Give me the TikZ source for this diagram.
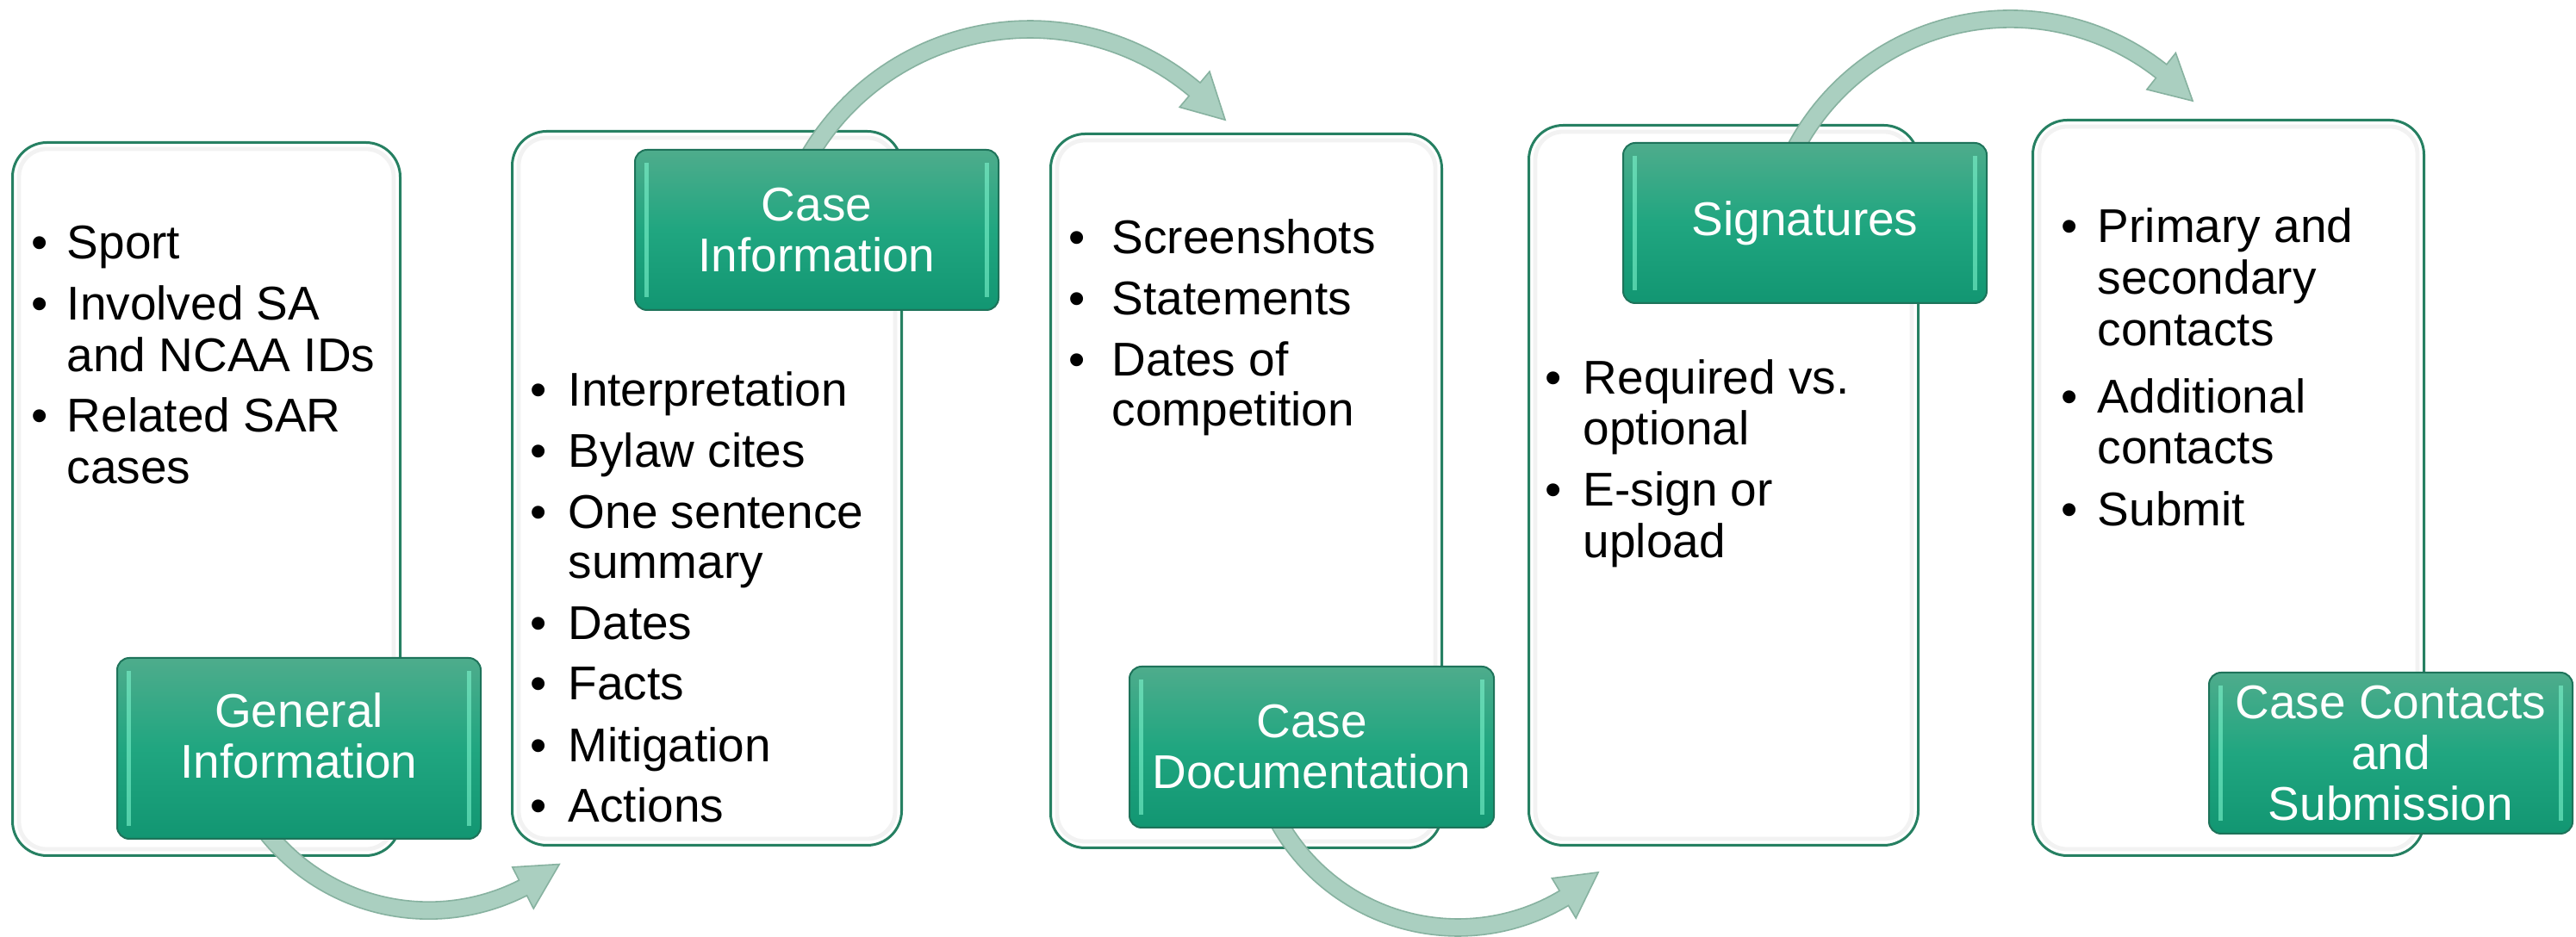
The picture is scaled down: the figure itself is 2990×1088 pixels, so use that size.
\documentclass[tikz,border=0pt]{standalone}
\usepackage{fontspec}
\setmainfont{Liberation Sans}
\usetikzlibrary{calc}
\definecolor{boxline}{RGB}{38,128,98}
\definecolor{gtop}{RGB}{78,172,140}
\definecolor{gmid}{RGB}{32,166,128}
\definecolor{gbot}{RGB}{18,150,114}
\definecolor{gline}{RGB}{30,115,90}
\definecolor{mint}{RGB}{125,245,205}
\definecolor{arrfill}{RGB}{170,207,192}
\definecolor{arrline}{RGB}{135,178,160}
\tikzset{
  cbox/.style={draw=boxline, line width=0.75pt, fill=white, rounded corners=10pt, anchor=north west, inner sep=0pt},
  gbox/.style={draw=gline, line width=0.5pt, top color=gtop, bottom color=gbot, middle color=gmid,
    rounded corners=3.5pt, anchor=north west, inner sep=0pt, text=white, align=center,
    font=\fontsize{13.75pt}{14.75pt}\selectfont},
  txt/.style={inner sep=0pt, anchor=base west, font=\fontsize{13.75pt}{14.75pt}\selectfont},
  bul/.style={txt, anchor=base},
  arr/.style={fill=arrfill, draw=arrline, line width=0.4pt},
  bevel/.style={fill=mint, opacity=0.6},
  inshade/.style={draw=black!5, line width=1.2pt, rounded corners=8pt},
}
\newcommand\carrow[8]{%
  \fill[arr] plot[domain=#4:#5, samples=60, variable=\t] ({#1+(#3+#7)*cos(\t)},{#2+(#3+#7)*sin(\t)})
  -- ({#1+(#3+#8)*cos(#5)},{#2+(#3+#8)*sin(#5)})
  -- ({#1+#3*cos(#6)},{#2+#3*sin(#6)})
  -- ({#1+(#3-#8)*cos(#5)},{#2+(#3-#8)*sin(#5)})
  -- plot[domain=#5:#4, samples=60, variable=\t] ({#1+(#3-#7)*cos(\t)},{#2+(#3-#7)*sin(\t)})
  -- cycle;}
\newcommand\bevels[1]{%
  \fill[bevel] ($(#1.north west)+(12,16)$) rectangle ($(#1.south west)+(17,-16)$);
  \fill[bevel] ($(#1.north east)+(-17,16)$) rectangle ($(#1.south east)+(-12,-16)$);}
\newcommand\inshadow[1]{%
  \draw[inshade] ($(#1.north west)+(9,9)$) rectangle ($(#1.south east)+(-9,-9)$);}
\begin{document}
\begin{tikzpicture}[x=0.25pt, y=-0.25pt]
\useasboundingbox (0,0) rectangle (2990,1088);
\fill[white] (0,0) rectangle (2990,1088);

% content boxes
\node[cbox, minimum width=112.5pt, minimum height=207pt] (box1) at (13,164) {};
\node[cbox, minimum width=113pt, minimum height=207.25pt] (box2) at (593,151) {};
\node[cbox, minimum width=113.5pt, minimum height=207.25pt] (box3) at (1218,154) {};
\node[cbox, minimum width=113pt, minimum height=209pt] (box4) at (1773,144) {};
\node[cbox, minimum width=113.5pt, minimum height=213.5pt] (box5) at (2358,138) {};
\inshadow{box1}
\inshadow{box2}
\inshadow{box3}
\inshadow{box4}
\inshadow{box5}

% box 1 text
\node[bul] (p1a) at (46,301) {•};
\node[txt] (t1a) at (77,301) {Sport};
\node[bul] (p1b) at (46,372) {•};
\node[txt] (t1b) at (77,372) {Involved SA};
\node[txt] (t1c) at (77,432) {and NCAA IDs};
\node[bul] (p1c) at (46,502) {•};
\node[txt] (t1d) at (77,502) {Related SAR};
\node[txt] (t1e) at (77,562) {cases};

% box 2 text
\node[bul] (p2a) at (625,472) {•};
\node[txt] (t2a) at (659,472) {Interpretation};
\node[bul] (p2b) at (625,543) {•};
\node[txt] (t2b) at (659,543) {Bylaw cites};
\node[bul] (p2c) at (625,614) {•};
\node[txt] (t2c) at (659,614) {One sentence};
\node[txt] (t2d) at (659,672) {summary};
\node[bul] (p2d) at (625,743) {•};
\node[txt] (t2e) at (659,743) {Dates};
\node[bul] (p2e) at (625,813) {•};
\node[txt] (t2f) at (659,813) {Facts};
\node[bul] (p2f) at (625,885) {•};
\node[txt] (t2g) at (659,885) {Mitigation};
\node[bul] (p2g) at (625,955) {•};
\node[txt] (t2h) at (659,955) {Actions};

% box 3 text
\node[bul] (p3a) at (1250,295) {•};
\node[txt] (t3a) at (1290,295) {Screenshots};
\node[bul] (p3b) at (1250,366) {•};
\node[txt] (t3b) at (1290,366) {Statements};
\node[bul] (p3c) at (1250,437) {•};
\node[txt] (t3c) at (1290,437) {Dates of};
\node[txt] (t3d) at (1290,495) {competition};

% box 4 text
\node[bul] (p4a) at (1803,458) {•};
\node[txt] (t4a) at (1837,458) {Required vs.};
\node[txt] (t4b) at (1837,517) {optional};
\node[bul] (p4b) at (1803,588) {•};
\node[txt] (t4c) at (1837,588) {E-sign or};
\node[txt] (t4d) at (1837,648) {upload};

% box 5 text
\node[bul] (p5a) at (2402,282) {•};
\node[txt] (t5a) at (2434,282) {Primary and};
\node[txt] (t5b) at (2434,342) {secondary};
\node[txt] (t5c) at (2434,402) {contacts};
\node[bul] (p5b) at (2402,480) {•};
\node[txt] (t5d) at (2434,480) {Additional};
\node[txt] (t5e) at (2434,539) {contacts};
\node[bul] (p5c) at (2402,611) {•};
\node[txt] (t5f) at (2434,611) {Submit};

% curved arrows
\carrow{497.7}{816.4}{240.8}{150}{63}{51}{10}{27}
\carrow{1195.4}{330.8}{296.8}{-152}{-49.9}{-40.2}{10}{27}
\carrow{1692.4}{838.4}{238.6}{153}{59}{47}{10}{27}
\carrow{2333.6}{304.3}{282.4}{-153}{-51.7}{-41.5}{10}{27}

% green title boxes
\node[gbox, minimum width=105.5pt, minimum height=52.5pt, text depth=7.5pt] (gi) at (135,763) {General\\Information};
\bevels{gi}
\node[gbox, minimum width=105.5pt, minimum height=46.5pt] (ci) at (736,173) {Case\\Information};
\bevels{ci}
\node[gbox, minimum width=105.75pt, minimum height=46.75pt] (cd) at (1310,773) {Case\\Documentation};
\bevels{cd}
\node[gbox, minimum width=105.5pt, minimum height=46.5pt] (sig) at (1883,165) {Signatures};
\bevels{sig}
\node[gbox, minimum width=105.5pt, minimum height=46.75pt] (ccs) at (2563,780) {Case Contacts\\and\\Submission};
\bevels{ccs}
\end{tikzpicture}
\end{document}
